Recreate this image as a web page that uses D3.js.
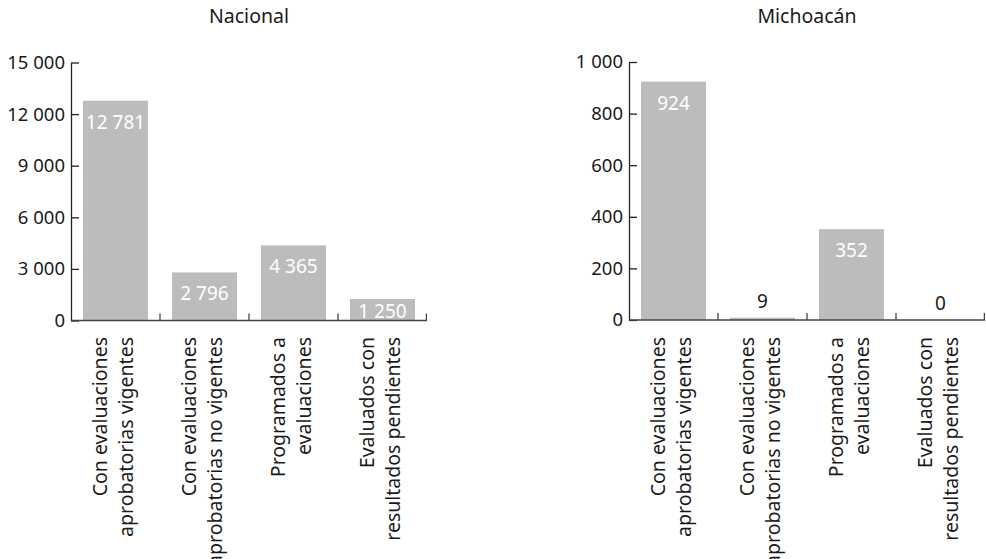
<!DOCTYPE html>
<html>
<head>
<meta charset="utf-8">
<script src="https://cdn.jsdelivr.net/npm/d3@7"></script>
<style>
  html, body { margin: 0; padding: 0; background: #fff; }
  svg { display: block; font-family: "Noto Sans", sans-serif; }
  .tick text { fill: #1a1a1a; }
</style>
</head>
<body>
<div id="chart"></div>
<script>
// datos
const categories = [
  ['Con evaluaciones', 'aprobatorias vigentes'],
  ['Con evaluaciones', 'aprobatorias no vigentes'],
  ['Programados a', 'evaluaciones'],
  ['Evaluados con', 'resultados pendientes']
];
const nacionalValues = [12781, 2796, 4365, 1250];
const michoacanValues = [924, 9, 352, 0];
const nacionalTicks = [0, 3000, 6000, 9000, 12000, 15000];
const michoacanTicks = [0, 200, 400, 600, 800, 1000];
const titles = ['Nacional', 'Michoacán'];

const locale = d3.formatLocale({ decimal: '.', thousands: '\u00a0', grouping: [3], currency: ['$', ''] });
const fmt = locale.format(',d');

const W = 986, H = 559;
const svg = d3.select('#chart').append('svg')
  .attr('width', W)
  .attr('height', H);

class BarPanel {
  constructor(g, opts) {
    this.g = g;
    this.opts = opts;
    this.setupUtils();
  }

  setupUtils() {
    const o = this.opts;
    this.x = d3.scaleBand()
      .domain(d3.range(o.values.length))
      .range([o.left, o.right])
      .paddingInner(0.27)
      .paddingOuter(0.135);
    this.y = d3.scaleLinear()
      .domain([0, o.max])
      .range([o.bottom, o.top]);
  }

  draw() {
    const o = this.opts, x = this.x, y = this.y;

    // title
    this.g.append('text')
      .attr('x', (o.left + o.right) / 2)
      .attr('y', 23)
      .attr('text-anchor', 'middle')
      .attr('font-size', '19.5px')
      .attr('fill', '#1a1a1a')
      .text(o.title);

    // bars
    this.g.selectAll('rect.bar')
      .data(o.values)
      .enter().append('rect')
      .attr('class', 'bar')
      .attr('x', (d, i) => x(i))
      .attr('y', d => y(d))
      .attr('width', x.bandwidth())
      .attr('height', d => y(0) - y(d))
      .attr('fill', '#bcbcbc');

    // y axis, ticks point inward
    const yAxis = d3.axisLeft(y)
      .tickValues(o.ticks)
      .tickFormat(fmt)
      .tickSizeInner(-8)
      .tickSizeOuter(0)
      .tickPadding(6);
    const ya = this.g.append('g')
      .attr('class', 'y axis')
      .attr('transform', `translate(${o.left},0)`)
      .call(yAxis);
    ya.selectAll('text').attr('font-size', '18.5px').attr('font-family', '"Noto Sans", sans-serif');
    ya.selectAll('line, path').attr('stroke', '#222').attr('stroke-width', 1.3);

    // x axis: baseline + small ticks between bands
    const step = x.step();
    const xa = this.g.append('g').attr('class', 'x axis');
    xa.append('line')
      .attr('x1', o.left).attr('x2', o.right)
      .attr('y1', y(0)).attr('y2', y(0))
      .attr('stroke', '#444').attr('stroke-width', 1.3);
    xa.selectAll('line.sep')
      .data(d3.range(1, o.values.length + 1))
      .enter().append('line')
      .attr('class', 'sep')
      .attr('x1', i => Math.min(o.left + i * step, o.right - 0.6))
      .attr('x2', i => Math.min(o.left + i * step, o.right - 0.6))
      .attr('y1', y(0)).attr('y2', y(0) - 7)
      .attr('stroke', '#444').attr('stroke-width', 1.3);

    // category labels, rotated
    const labels = this.g.selectAll('text.cat')
      .data(categories)
      .enter().append('text')
      .attr('class', 'cat')
      .attr('transform', (d, i) => `translate(${x(i) + x.bandwidth() / 2},337) rotate(-90)`)
      .attr('text-anchor', 'end')
      .attr('font-size', '19.5px')
      .attr('fill', '#1a1a1a');
    labels.selectAll('tspan')
      .data(d => d)
      .enter().append('tspan')
      .attr('x', 0)
      .attr('y', (d, j) => j === 0 ? -8.5 : 17)
      .text(d => d);

    // value labels
    this.g.selectAll('text.val')
      .data(o.values)
      .enter().append('text')
      .attr('class', 'val')
      .attr('x', (d, i) => x(i) + x.bandwidth() / 2)
      .attr('y', d => {
        const h = y(0) - y(d);
        if (h < 15) return y(d) - 10;
        return Math.min(y(d) + 28, y(0) - 3);
      })
      .attr('text-anchor', 'middle')
      .attr('font-size', '19px')
      .attr('fill', d => (y(0) - y(d)) < 15 ? '#1a1a1a' : '#fff')
      .text(d => fmt(d));
  }
}

new BarPanel(svg.append('g'), {
  title: titles[0], values: nacionalValues, ticks: nacionalTicks, max: 15000,
  left: 71, right: 427, top: 62.5, bottom: 320.5
}).draw();

new BarPanel(svg.append('g'), {
  title: titles[1], values: michoacanValues, ticks: michoacanTicks, max: 1000,
  left: 629, right: 985, top: 62, bottom: 320
}).draw();
</script>
</body>
</html>
